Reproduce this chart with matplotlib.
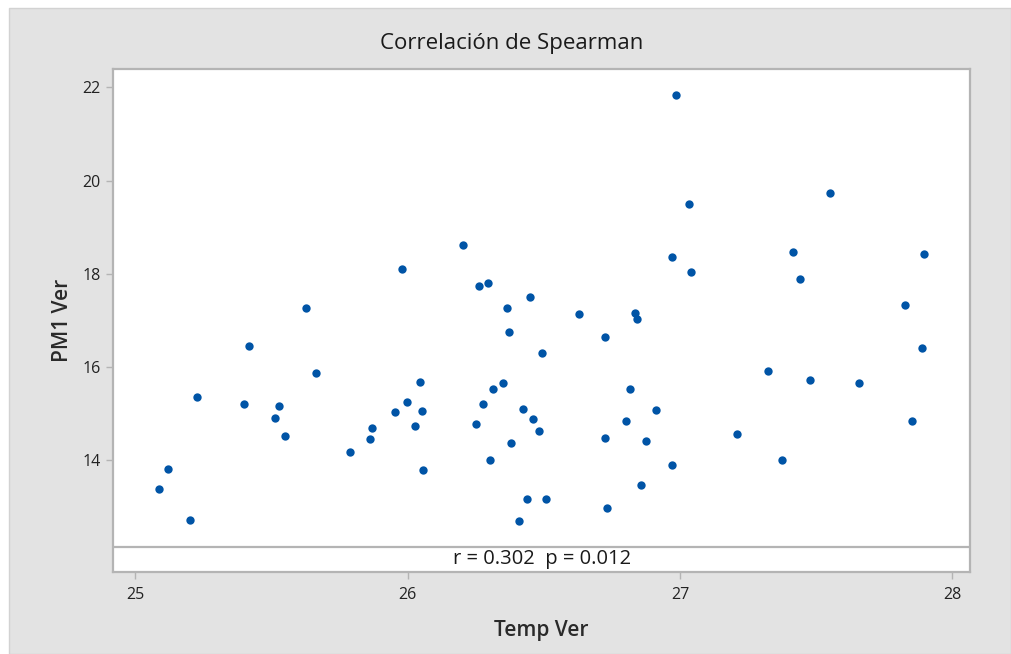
import matplotlib
matplotlib.use("Agg")
import matplotlib.pyplot as plt
from matplotlib.patches import Rectangle

# Temp Ver (x) and PM1 Ver (y)
temp_ver = [25.625, 25.416, 25.662, 25.226, 25.400, 25.528, 25.511, 25.549, 25.787,
            25.121, 25.088, 25.199,
            26.204, 25.979, 26.263, 26.296, 26.449, 26.366, 26.628, 26.835, 26.841,
            26.373, 26.726, 26.493, 26.044, 26.349, 26.314, 26.816, 25.999, 26.275,
            25.955, 26.051, 26.422, 26.461, 26.026, 25.870, 26.250, 26.481, 26.803,
            25.860, 26.378, 26.726, 26.301, 26.057, 26.437, 26.508, 26.732, 26.410,
            26.984, 27.034, 27.550, 26.971, 27.040, 27.415, 27.896, 27.440, 27.826,
            27.889, 27.324, 27.477, 27.658, 26.912, 27.851, 26.874, 27.208, 26.970,
            27.375, 26.858]
pm1_ver = [17.26, 16.45, 15.88, 15.36, 15.21, 15.175, 14.92, 14.52, 14.19,
           13.82, 13.39, 12.73,
           18.61, 18.10, 17.73, 17.81, 17.51, 17.26, 17.15, 17.16, 17.04,
           16.75, 16.64, 16.31, 15.69, 15.66, 15.54, 15.54, 15.25, 15.21,
           15.03, 15.07, 15.10, 14.89, 14.74, 14.70, 14.78, 14.63, 14.85,
           14.45, 14.38, 14.49, 14.01, 13.79, 13.17, 13.17, 12.99, 12.70,
           21.83, 19.49, 19.74, 18.36, 18.03, 18.47, 18.43, 17.88, 17.33,
           16.42, 15.91, 15.73, 15.66, 15.08, 14.85, 14.41, 14.56, 13.90,
           14.01, 13.47]

x_ticks = [25, 26, 27, 28]
y_ticks = [14, 16, 18, 20, 22]
stat_text = "r = 0.302  p = 0.012"

plt.rcParams['font.family'] = ['Open Sans', 'DejaVu Sans']

W, H = 1011, 654
fig = plt.figure(figsize=(W/100, H/100), dpi=100, facecolor='white')

# grey panel behind everything
fig.patches.append(Rectangle((9/W, 0), 1 - 9/W, 1 - 8/H, transform=fig.transFigure,
                             facecolor='#e3e3e3', edgecolor='#d2d2d2', lw=1, zorder=-10))

ax = fig.add_axes([113.3/W, 1 - 571.7/H, (970 - 113.3)/W, (571.7 - 69.3)/H])
ax.set_zorder(2)
ax.set_facecolor('white')

ax.scatter(temp_ver, pm1_ver, s=36, color='#0054a6', linewidths=0, zorder=3)

ax.set_xlim(24.919, 28.065)
ax.set_ylim(11.616, 22.386)
ax.set_xticks(x_ticks)
ax.set_yticks(y_ticks)

for sp in ax.spines.values():
    sp.set_color('#b4b4b4')
    sp.set_linewidth(1.6)

ax.tick_params(direction='out', length=5, width=1, color='#b4b4b4',
               labelcolor='#222222', labelsize=11.5)
ax.tick_params(axis='x', pad=6)
ax.tick_params(axis='y', pad=4)
for lbl in ax.get_xticklabels() + ax.get_yticklabels():
    lbl.set_fontweight('medium')

# statistics strip at the bottom of the plot area
box_h = 24.7 / (571.7 - 69.3)
ax.plot([0, 1], [box_h, box_h], transform=ax.transAxes, color='#b4b4b4', lw=1.6, zorder=4)
ax.text(0.5, box_h/2, stat_text, transform=ax.transAxes, ha='center', va='center',
        fontsize=14.5, color='#1a1a1a', zorder=5)

ax.set_xlabel("Temp Ver", fontsize=15, color='#2a2a2a', fontweight='semibold', labelpad=12)
ax.set_ylabel("PM1 Ver", fontsize=15, color='#2a2a2a', fontweight='semibold', labelpad=7)

fig.text(512/W, 1 - 43/H, "Correlación de Spearman", ha='center', va='center',
         fontsize=16, color='#1a1a1a')

fig.savefig("out.png", dpi=100, facecolor=fig.get_facecolor())
